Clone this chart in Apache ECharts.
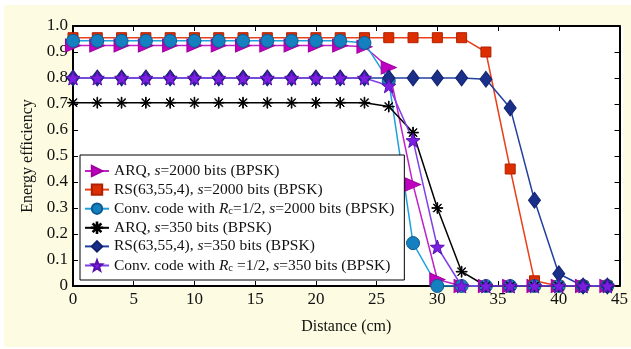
<!DOCTYPE html>
<html>
<head>
<meta charset="utf-8">
<script src="https://cdn.jsdelivr.net/npm/echarts@6/dist/echarts.min.js"></script>
<style>
  html, body { margin: 0; padding: 0; background: #ffffff; }
  #chart { width: 631px; height: 349px; }
</style>
</head>
<body>
<div id="chart"></div>
<script>
// Distance samples (cm)
const distance = [0, 2, 4, 6, 8, 10, 12, 14, 16, 18, 20, 22, 24, 26, 28, 30, 32, 34, 36, 38, 40, 42, 44];

// Energy efficiency per scheme
const arq2000  = [0.925, 0.925, 0.925, 0.925, 0.925, 0.925, 0.925, 0.925, 0.925, 0.925, 0.925, 0.925, 0.92, 0.84, 0.39, 0.025, 0, 0, 0, 0, 0, 0, 0];
const rs2000   = [0.955, 0.955, 0.955, 0.955, 0.955, 0.955, 0.955, 0.955, 0.955, 0.955, 0.955, 0.955, 0.955, 0.955, 0.955, 0.955, 0.955, 0.90, 0.45, 0.02, 0, 0, 0];
const conv2000 = [0.943, 0.943, 0.943, 0.943, 0.943, 0.943, 0.943, 0.943, 0.943, 0.943, 0.943, 0.943, 0.935, 0.79, 0.165, 0, 0, 0, 0, 0, 0, 0, 0];
const arq350   = [0.705, 0.705, 0.705, 0.705, 0.705, 0.705, 0.705, 0.705, 0.705, 0.705, 0.705, 0.705, 0.705, 0.69, 0.59, 0.30, 0.055, 0, 0, 0, 0, 0, 0];
const rs350    = [0.80, 0.80, 0.80, 0.80, 0.80, 0.80, 0.80, 0.80, 0.80, 0.80, 0.80, 0.80, 0.80, 0.80, 0.80, 0.80, 0.80, 0.795, 0.685, 0.33, 0.047, 0, 0];
const conv350  = [0.80, 0.80, 0.80, 0.80, 0.80, 0.80, 0.80, 0.80, 0.80, 0.80, 0.80, 0.80, 0.80, 0.77, 0.56, 0.15, 0, 0, 0, 0, 0, 0, 0];

// Legend labels (rich-text markup: {i|..} italic, {sub|..} subscript)
const seriesNames = [
  'ARQ, {i|s}=2000 bits (BPSK)',
  'RS(63,55,4), {i|s}=2000 bits (BPSK)',
  'Conv. code with {i|R}{sub|c}=1/2, {i|s}=2000 bits (BPSK)',
  'ARQ, {i|s}=350 bits (BPSK)',
  'RS(63,55,4), {i|s}=350 bits (BPSK)',
  'Conv. code with {i|R}{sub|c} =1/2, {i|s}=350 bits (BPSK)'
];

const FONT = '"Liberation Serif", "DejaVu Serif", serif';

// Marker shapes
const starPath = (function () {
  const pts = [];
  for (let k = 0; k < 10; k++) {
    const r = k % 2 === 0 ? 10 : 4.2;
    const a = -Math.PI / 2 + k * Math.PI / 5;
    pts.push((r * Math.cos(a)).toFixed(2) + ',' + (r * Math.sin(a)).toFixed(2));
  }
  return 'path://M' + pts.join(' L') + ' Z';
})();
const asteriskPath = (function () {
  let d = '';
  const w = 0.6, r = 10;
  [90, 0, 45, 135].forEach(function (deg) {
    const a = deg * Math.PI / 180;
    const c = Math.cos(a), s = Math.sin(a);
    const px = -s * w, py = c * w;
    const p = [
      [r * c + px, r * s + py], [r * c - px, r * s - py],
      [-r * c - px, -r * s - py], [-r * c + px, -r * s + py]
    ];
    d += 'M' + p.map(q => q[0].toFixed(2) + ',' + q[1].toFixed(2)).join(' L') + ' Z ';
  });
  return 'path://' + d;
})();

function pairs(vals) {
  return distance.map((d, i) => [d, vals[i]]);
}

function mkSeries(name, vals, lineColor, fill, border, symbol, size, rotate) {
  return {
    name: name,
    type: 'line',
    data: pairs(vals),
    symbol: symbol,
    symbolSize: size,
    symbolRotate: rotate || 0,
    showAllSymbol: true,
    lineStyle: { color: lineColor, width: 1.5 },
    itemStyle: { color: fill, borderColor: border, borderWidth: 1 },
    emphasis: { disabled: true },
    animation: false,
    z: 3
  };
}

const chart = echarts.init(document.getElementById('chart'), null, { renderer: 'canvas' });

chart.setOption({
  backgroundColor: '#ffffff',
  animation: false,
  graphic: [{
    type: 'rect',
    shape: { x: 4, y: 5, width: 627, height: 342 },
    style: { fill: '#fdfce2' },
    z: -10, silent: true
  }, {
    type: 'rect',
    shape: { x: 73, y: 26, width: 550, height: 260 },
    style: { fill: '#ffffff' },
    z: -9, silent: true
  }],
  grid: { left: 73, top: 26, right: 8, bottom: 63, containLabel: false },
  xAxis: [{
    type: 'value', min: 0, max: 45, interval: 5,
    name: 'Distance (cm)', nameLocation: 'middle', nameGap: 33,
    nameTextStyle: { fontFamily: FONT, fontSize: 16, color: '#111' },
    axisLine: { show: true, onZero: false, lineStyle: { color: '#000', width: 2 } },
    axisTick: { show: true, inside: true, length: 5, lineStyle: { color: '#000', width: 1 } },
    axisLabel: { fontFamily: FONT, fontSize: 17, color: '#111', margin: 5 },
    splitLine: { show: false }
  }, {
    type: 'value', min: 0, max: 45, interval: 5, position: 'top',
    axisLine: { show: true, onZero: false, lineStyle: { color: '#000', width: 2 } },
    axisTick: { show: true, inside: true, length: 5, lineStyle: { color: '#000', width: 1 } },
    axisLabel: { show: false },
    splitLine: { show: false }
  }],
  yAxis: [{
    type: 'value', min: 0, max: 1, interval: 0.1,
    name: 'Energy efficiency', nameLocation: 'middle', nameGap: 37,
    nameTextStyle: { fontFamily: FONT, fontSize: 16, color: '#111' },
    axisLine: { show: true, onZero: false, lineStyle: { color: '#000', width: 2 } },
    axisTick: { show: true, inside: true, length: 5, lineStyle: { color: '#000', width: 1 } },
    axisLabel: {
      fontFamily: FONT, fontSize: 17, color: '#111', margin: 5,
      formatter: v => (Math.abs(v) < 1e-9 ? '0' : v.toFixed(1))
    },
    splitLine: { show: false }
  }, {
    type: 'value', min: 0, max: 1, interval: 0.1, position: 'right',
    axisLine: { show: true, onZero: false, lineStyle: { color: '#000', width: 2 } },
    axisTick: { show: true, inside: true, length: 5, lineStyle: { color: '#000', width: 1 } },
    axisLabel: { show: false },
    splitLine: { show: false }
  }],
  legend: {
    orient: 'vertical',
    left: 80, top: 155,
    padding: [8, 10, 6, 4],
    backgroundColor: '#ffffff',
    borderColor: '#000', borderWidth: 1,
    itemWidth: 24, itemHeight: 13, itemGap: 2.6,
    selectedMode: false,
    textStyle: {
      fontFamily: FONT, fontSize: 15.5, lineHeight: 16, color: '#111',
      rich: {
        i: { fontFamily: FONT, fontSize: 15.5, lineHeight: 16, fontStyle: 'italic', color: '#111' },
        sub: { fontFamily: FONT, fontSize: 10.5, lineHeight: 16, color: '#111', padding: [6, 0, 0, 0] }
      }
    },
    data: seriesNames
  },
  series: [
    mkSeries(seriesNames[0], arq2000, '#c020c8', '#c000c0', '#a000a0', 'triangle', [13, 15], -90),
    mkSeries(seriesNames[1], rs2000, '#e8401a', '#dd2e00', '#b02000', 'rect', 10),
    mkSeries(seriesNames[2], conv2000, '#1fa0dc', '#1480c0', '#0d5a90', 'circle', 13),
    mkSeries(seriesNames[3], arq350, '#000000', '#000000', '#000000', asteriskPath, 11),
    mkSeries(seriesNames[4], rs350, '#2340a0', '#1a2f88', '#122270', 'diamond', [12, 16]),
    mkSeries(seriesNames[5], conv350, '#8040e8', '#7a1fe0', '#5a10b0', starPath, 14)
  ]
});
</script>
</body>
</html>
